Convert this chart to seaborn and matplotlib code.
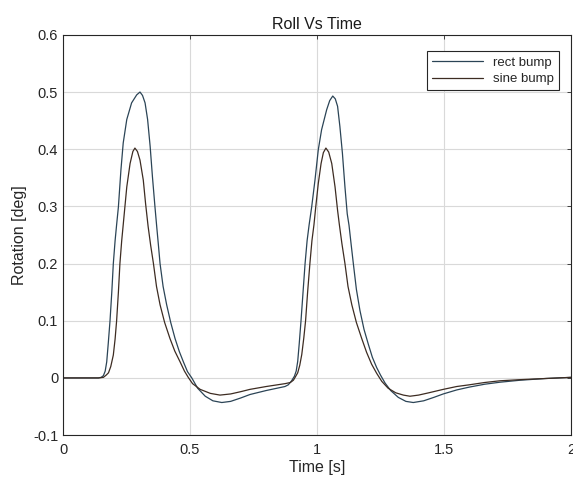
import numpy as np
import pandas as pd
import matplotlib
matplotlib.use("Agg")
import matplotlib.pyplot as plt
import seaborn as sns

# rect bump (higher peaks)
rect_t = [0.0, 0.10, 0.13, 0.139, 0.15, 0.159, 0.166, 0.172, 0.178, 0.185, 0.192, 0.198,
          0.205, 0.211, 0.218, 0.228, 0.237, 0.251, 0.270, 0.290, 0.303, 0.313, 0.323,
          0.333, 0.343, 0.352, 0.362, 0.369, 0.375, 0.382, 0.394, 0.408, 0.424, 0.441,
          0.458, 0.474, 0.49, 0.507, 0.53, 0.56, 0.59, 0.625, 0.66, 0.70, 0.736, 0.80,
          0.874, 0.887, 0.90, 0.911, 0.918, 0.924, 0.93, 0.937, 0.945, 0.953, 0.961,
          0.969, 0.979, 0.992, 1.005, 1.018, 1.038, 1.05, 1.062, 1.072, 1.081, 1.090,
          1.100, 1.110, 1.119, 1.126, 1.134, 1.143, 1.155, 1.169, 1.185, 1.202, 1.218,
          1.235, 1.25, 1.268, 1.29, 1.32, 1.35, 1.379, 1.42, 1.46, 1.497, 1.55, 1.6,
          1.66, 1.72, 1.8, 1.9, 2.0]
rect_v = [0.0, 0.0, 0.0, 0.0, 0.001, 0.004, 0.012, 0.028, 0.06, 0.10, 0.15, 0.20,
          0.24, 0.268, 0.299, 0.364, 0.411, 0.452, 0.481, 0.495, 0.50, 0.494, 0.481,
          0.452, 0.405, 0.352, 0.299, 0.264, 0.235, 0.20, 0.16, 0.128, 0.097, 0.069,
          0.046, 0.028, 0.011, 0.0, -0.018, -0.032, -0.040, -0.043, -0.041, -0.035, -0.029, -0.022,
          -0.015, -0.012, -0.005, 0.003, 0.012, 0.029, 0.06, 0.10, 0.15, 0.20, 0.24,
          0.268, 0.299, 0.346, 0.399, 0.434, 0.469, 0.485, 0.493, 0.488, 0.475, 0.44,
          0.393, 0.334, 0.287, 0.267, 0.235, 0.20, 0.155, 0.118, 0.085, 0.059, 0.036,
          0.018, 0.005, -0.009, -0.022, -0.034, -0.041, -0.043, -0.040, -0.034, -0.028, -0.021, -0.016,
          -0.011, -0.0075, -0.004, -0.001, 0.001]

# sine bump (lower peaks)
sine_t = [0.0, 0.10, 0.14, 0.159, 0.17, 0.179, 0.188, 0.198, 0.205, 0.211, 0.218, 0.224,
          0.231, 0.237, 0.241, 0.251, 0.264, 0.275, 0.283, 0.293, 0.303, 0.316, 0.325,
          0.335, 0.345, 0.356, 0.368, 0.382, 0.40, 0.421, 0.44, 0.461, 0.478, 0.493,
          0.51, 0.54, 0.58, 0.618, 0.66, 0.70, 0.736, 0.80, 0.874, 0.895, 0.907, 0.915,
          0.924, 0.932, 0.94, 0.948, 0.955, 0.963, 0.972, 0.98, 0.988, 0.995, 1.005,
          1.016, 1.025, 1.035, 1.046, 1.058, 1.071, 1.081, 1.088, 1.098, 1.110, 1.122,
          1.137, 1.155, 1.176, 1.195, 1.215, 1.235, 1.255, 1.28, 1.31, 1.34, 1.366, 1.40,
          1.44, 1.497, 1.55, 1.6, 1.66, 1.72, 1.8, 1.9, 2.0]
sine_v = [0.0, 0.0, 0.0, 0.001, 0.005, 0.009, 0.02, 0.04, 0.068, 0.10, 0.15, 0.20,
          0.24, 0.268, 0.287, 0.334, 0.375, 0.396, 0.402, 0.396, 0.381, 0.346, 0.305,
          0.265, 0.232, 0.20, 0.16, 0.128, 0.097, 0.069, 0.047, 0.028, 0.012, 0.001,
          -0.01, -0.020, -0.027, -0.030, -0.028, -0.024, -0.020, -0.015, -0.010, -0.008, -0.004, 0.002,
          0.009, 0.022, 0.041, 0.07, 0.10, 0.15, 0.20, 0.24, 0.268, 0.299, 0.34,
          0.375, 0.394, 0.402, 0.395, 0.375, 0.334, 0.293, 0.268, 0.235, 0.20, 0.16,
          0.128, 0.097, 0.069, 0.045, 0.024, 0.008, -0.006, -0.018, -0.026, -0.030, -0.032, -0.030,
          -0.026, -0.020, -0.015, -0.012, -0.008, -0.005, -0.003, -0.001, 0.001]

series_names = ["rect bump", "sine bump"]
x_ticks = [0, 0.5, 1, 1.5, 2]
x_ticklabels = ["0", "0.5", "1", "1.5", "2"]
y_ticks = [-0.1, 0, 0.1, 0.2, 0.3, 0.4, 0.5, 0.6]
y_ticklabels = ["-0.1", "0", "0.1", "0.2", "0.3", "0.4", "0.5", "0.6"]

df = pd.concat([
    pd.DataFrame({"t": rect_t, "v": rect_v, "series": series_names[0]}),
    pd.DataFrame({"t": sine_t, "v": sine_v, "series": series_names[1]}),
], ignore_index=True)

sns.set_theme(style="white")
plt.rcParams["font.family"] = ["Liberation Sans", "DejaVu Sans"]

fig = plt.figure(figsize=(5.73, 4.84), dpi=100)
ax = fig.add_axes([0.110, 0.101, 0.8865, 0.827])

palette = {"rect bump": "#2b4456", "sine bump": "#3d2c22"}
sns.lineplot(data=df, x="t", y="v", hue="series", palette=palette, sort=False,
             estimator=None, linewidth=0.9, ax=ax)

ax.set_xlim(0, 2)
ax.set_ylim(-0.1, 0.6)
ax.set_xticks(x_ticks)
ax.set_xticklabels(x_ticklabels)
ax.set_yticks(y_ticks)
ax.set_yticklabels(y_ticklabels)
ax.grid(True, color="#d9d9d9", linewidth=0.8)
ax.set_axisbelow(True)
for s in ax.spines.values():
    s.set_color("#262626")
    s.set_linewidth(0.8)
ax.tick_params(direction="in", length=3, width=0.6, labelsize=10.5, colors="#262626",
               top=True, right=True, labeltop=False, labelright=False)
ax.tick_params(axis="x", pad=6)
ax.set_xlabel("Time [s]", fontsize=11.5, color="#262626", labelpad=2)
ax.set_ylabel("Rotation [deg]", fontsize=11.5, color="#262626", labelpad=4)
ax.set_title("Roll Vs Time", fontsize=11.5, color="#1a1a1a", pad=4)

handles, labels = ax.get_legend_handles_labels()
leg = ax.legend(handles, labels, loc="upper right", bbox_to_anchor=(0.99, 0.975),
                fontsize=9.5, frameon=True, fancybox=False, framealpha=1,
                edgecolor="#262626", handlelength=3.8, borderpad=0.4, labelspacing=0.3)
leg.get_frame().set_linewidth(0.8)

fig.savefig("out.png", dpi=100)
